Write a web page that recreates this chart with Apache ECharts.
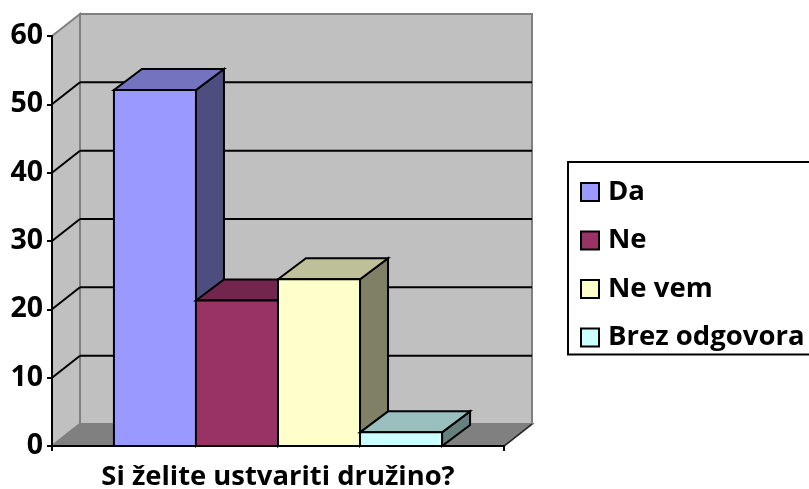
<!DOCTYPE html>
<html>
<head>
<meta charset="utf-8">
<style>html,body{margin:0;padding:0;background:#fff;overflow:hidden}#c{width:809px;height:489px}</style>
<script src="https://cdn.jsdelivr.net/npm/echarts@6/dist/echarts.min.js"></script>
</head>
<body>
<div id="c"></div>
<script>
const categories = ['Si želite ustvariti družino?'];
const seriesNames = ['Da', 'Ne', 'Ne vem', 'Brez odgovora'];
const seriesValues = [52.1, 21.3, 24.4, 2.0];
const seriesColors = ['#9999FF', '#993366', '#FFFFCC', '#CCFFFF'];
const yTicks = [0, 10, 20, 30, 40, 50, 60];

const FONT = '"Open Sans", sans-serif';
const DEPTH_X = 28, DEPTH_Y = -22, BAR_DEPTH_Y = -21;
const BAND_SLOTS = 5.51;

function shade(hex, f) {
  const n = parseInt(hex.slice(1), 16);
  const c = [n >> 16, (n >> 8) & 255, n & 255].map(v => Math.round(v * f));
  return 'rgb(' + c.join(',') + ')';
}

function renderWalls(params, api) {
  const x0 = api.coord([0, 0])[0] - api.size([1, 0])[0] / 2;
  const x1 = x0 + api.size([1, 0])[0];
  const y0 = api.coord([0, 0])[1];
  const yT = api.coord([0, yTicks[yTicks.length - 1]])[1];
  const dx = DEPTH_X, dy = DEPTH_Y;
  const poly = (pts, fill, stroke, w) => ({
    type: 'polygon', shape: { points: pts },
    style: { fill: fill, stroke: stroke, lineWidth: w }
  });
  const line = (a, b, stroke, w) => ({
    type: 'line', shape: { x1: a[0], y1: a[1], x2: b[0], y2: b[1] },
    style: { stroke: stroke, lineWidth: w }
  });
  const kids = [
    poly([[x0 + dx, yT + dy], [x1 + dx, yT + dy], [x1 + dx, y0 + dy], [x0 + dx, y0 + dy]], '#C0C0C0', '#808080', 2),
    poly([[x0, yT], [x0 + dx, yT + dy], [x0 + dx, y0 + dy], [x0, y0]], '#C0C0C0', '#808080', 2),
    poly([[x0, y0], [x0 + dx, y0 + dy], [x1 + dx, y0 + dy], [x1, y0]], '#808080', '#808080', 2)
  ];
  yTicks.slice(1, -1).forEach(t => {
    const y = api.coord([0, t])[1];
    kids.push(line([x0, y], [x0 + dx, y + dy], '#000', 2));
    kids.push(line([x0 + dx, y + dy], [x1 + dx, y + dy], '#000', 2));
  });
  kids.push(line([x1, y0], [x1 + dx, y0 + dy], '#222', 1.5));
  return { type: 'group', children: kids };
}

function renderBar(params, api) {
  const base = api.coord([api.value(0), 0]);
  const top = api.coord([api.value(0), api.value(1)]);
  const band = api.size([1, 0])[0];
  const w = band / BAND_SLOTS;
  const L = base[0] + (params.seriesIndex - 1 - seriesNames.length / 2) * w;
  const R = L + w;
  const yB = base[1], yT = top[1];
  const dx = DEPTH_X, dy = BAR_DEPTH_Y;
  const color = seriesColors[params.seriesIndex - 1];
  const st = fill => ({ fill: fill, stroke: '#000', lineWidth: 2, lineJoin: 'miter' });
  return {
    type: 'group',
    children: [
      { type: 'polygon', shape: { points: [[R, yT], [R + dx, yT + dy], [R + dx, yB + dy], [R, yB]] }, style: st(shade(color, 0.5)) },
      { type: 'polygon', shape: { points: [[L, yT], [L + dx, yT + dy], [R + dx, yT + dy], [R, yT]] }, style: st(shade(color, 0.75)) },
      { type: 'rect', shape: { x: L, y: yT, width: w, height: yB - yT }, style: st(color) }
    ]
  };
}

const chart = echarts.init(document.getElementById('c'), null, { renderer: 'canvas' });
chart.setOption({
  animation: false,
  backgroundColor: '#fff',
  grid: { left: 52, right: 305, top: 36, bottom: 43, containLabel: false, outerBoundsMode: 'none' },
  legend: {
    show: true, orient: 'vertical', left: 568, top: 162,
    backgroundColor: '#fff', borderColor: '#000', borderWidth: 2,
    padding: [16, 6, 3, 12], itemGap: 20.5, itemWidth: 18, itemHeight: 18,
    selectedMode: false,
    textStyle: { fontFamily: FONT, fontWeight: 'bold', fontSize: 27.5, lineHeight: 26, color: '#000', padding: [0, 0, 0, 4] },
    data: seriesNames.map((n, i) => ({
      name: n, icon: 'rect',
      itemStyle: { color: seriesColors[i], borderColor: '#000', borderWidth: 2 }
    }))
  },
  xAxis: {
    type: 'category', data: categories, z: 3,
    axisLine: { show: true, lineStyle: { color: '#000', width: 2 } },
    axisTick: { show: true, length: 5, lineStyle: { color: '#000', width: 2 } },
    axisLabel: { show: true, interval: 0, margin: 18, fontFamily: FONT, fontWeight: 'bold', fontSize: 27.4, color: '#000' },
    splitLine: { show: false }
  },
  yAxis: {
    type: 'value', min: 0, max: 60, interval: 10, z: 3,
    axisLine: { show: true, lineStyle: { color: '#000', width: 2 } },
    axisTick: { show: true, length: 5, lineStyle: { color: '#000', width: 2 } },
    axisLabel: { show: true, margin: 9, fontFamily: FONT, fontWeight: 'bold', fontSize: 28.5, color: '#000' },
    splitLine: { show: false }
  },
  series: [
    { type: 'custom', name: 'walls', silent: true, z: 1, renderItem: renderWalls, data: [[0, 0]], encode: { x: 0, y: 1 } }
  ].concat(seriesNames.map((n, i) => ({
    type: 'custom', name: n, z: 4, silent: true,
    renderItem: renderBar,
    itemStyle: { color: seriesColors[i] },
    data: [[0, seriesValues[i]]],
    encode: { x: 0, y: 1 }
  })))
});
</script>
</body>
</html>
